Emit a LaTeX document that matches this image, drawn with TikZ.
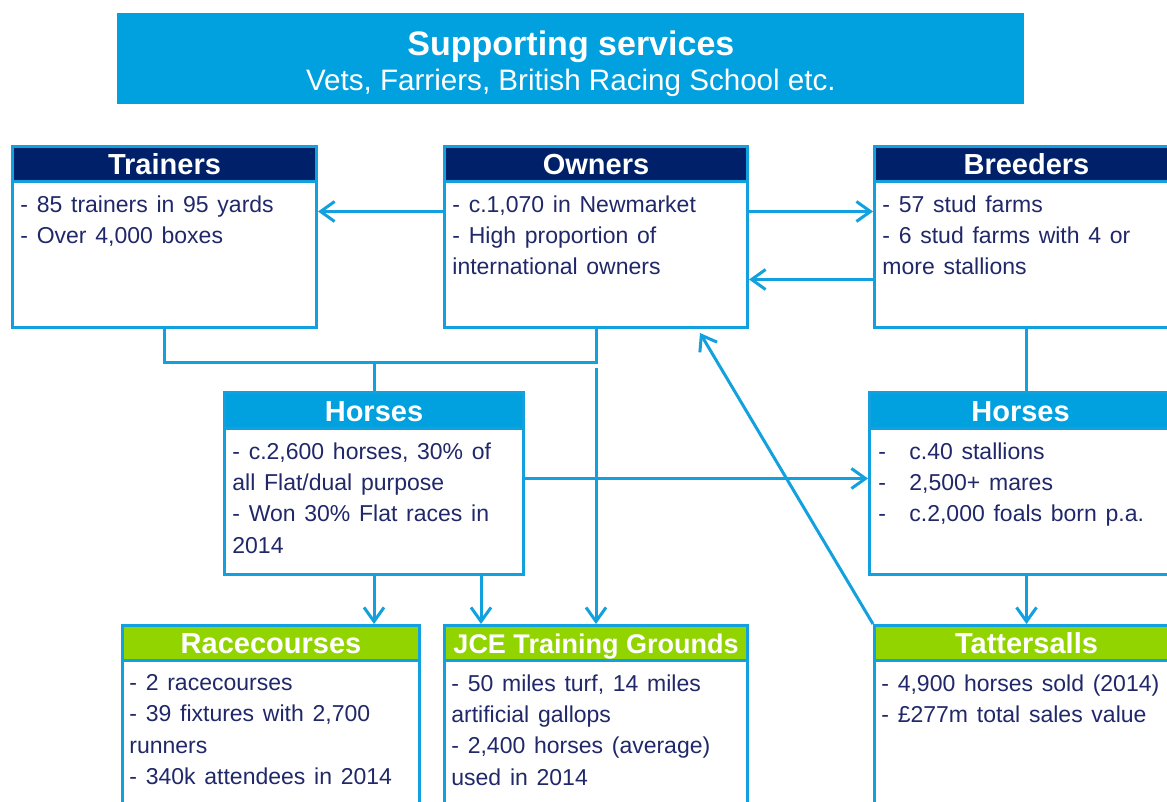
\documentclass[tikz,border=0pt]{standalone}
\usepackage{fontspec}
\setmainfont{Liberation Sans}
\usetikzlibrary{arrows.meta}
\definecolor{lineblue}{RGB}{18,161,222}
\definecolor{bannerblue}{RGB}{0,161,222}
\definecolor{headnavy}{RGB}{0,33,105}
\definecolor{headgreen}{RGB}{146,212,0}
\definecolor{textnavy}{RGB}{33,40,105}

\begin{document}
\begin{tikzpicture}[x=0.5pt,y=-0.5pt,
	box/.style={draw=lineblue,line width=1.5pt,fill=white,anchor=north west,inner sep=0pt},
	head/.style={draw=lineblue,line width=1.5pt,fill=#1,text=white,anchor=north,inner sep=0pt,minimum height=17.5pt,text height=12pt,text depth=1.5pt,font=\fontsize{14.5}{16}\selectfont\bfseries},
	body/.style={anchor=north west,inner sep=0pt,text=textnavy,text width=150pt,align=left,font=\fontsize{11.5}{15.7}\selectfont,execute at begin node={\spaceskip=0.38em\relax}},
	conn/.style={draw=lineblue,line width=1.5pt},
	arr/.style={conn,-{Straight Barb[length=7pt,width=10pt]}}]
	\fill[white] (0,0) rectangle (1167,802);
	\clip (0,0) rectangle (1167,802);
	\node[fill=bannerblue,anchor=north west,minimum width=453.5pt,minimum height=45.5pt,text=white,align=center,font=\fontsize{14.8}{17.8}\selectfont] (support) at (117,13) {};
	\node[text=white,align=center,font=\fontsize{14.8}{17.8}\selectfont] (supportT) at ([yshift=-2.5pt]support.center) {{\fontsize{17}{17.8}\selectfont\bfseries Supporting services}\\Vets, Farriers, British Racing School etc.};
	% top row
	\node[box,minimum width=152pt,minimum height=90.5pt] (trainers) at (11,145) {};
	\node[head=headnavy,minimum width=152pt] (trainersH) at (trainers.north) {Trainers};
	\node[body] (trainersT) at ([xshift=4.5pt,yshift=-6pt]trainersH.south west) {- 85 trainers in 95 yards\\- Over 4,000 boxes};
	\node[box,minimum width=151.5pt,minimum height=90.5pt] (owners) at (443,145) {};
	\node[head=headnavy,minimum width=151.5pt] (ownersH) at (owners.north) {Owners};
	\node[body] (ownersT) at ([xshift=4.5pt,yshift=-6pt]ownersH.south west) {- c.1,070 in Newmarket\\- High proportion of\\international owners};
	\node[box,minimum width=152pt,minimum height=90.5pt] (breeders) at (873,145) {};
	\node[head=headnavy,minimum width=152pt] (breedersH) at (breeders.north) {Breeders};
	\node[body] (breedersT) at ([xshift=4.5pt,yshift=-6pt]breedersH.south west) {- 57 stud farms\\- 6 stud farms with 4 or\\more stallions};
	% horses
	\node[box,minimum width=149.5pt,minimum height=91pt] (horsesL) at (223,391) {};
	\node[head=bannerblue,minimum width=149.5pt,minimum height=18pt] (horsesLH) at (horsesL.north) {Horses};
	\node[body] (horsesLT) at ([xshift=4.5pt,yshift=-6pt]horsesLH.south west) {- c.2,600 horses, 30\% of\\all Flat/dual purpose\\- Won 30\% Flat races in\\2014};
	\node[box,minimum width=151pt,minimum height=91pt] (horsesR) at (868,391) {};
	\node[head=bannerblue,minimum width=151pt,minimum height=18pt] (horsesRH) at (horsesR.north) {Horses};
	\node[body] (horsesRT) at ([xshift=5pt,yshift=-6pt]horsesRH.south west) {\makebox[15.5pt][l]{-}c.40 stallions\\\makebox[15.5pt][l]{-}2,500+ mares\\\makebox[15.5pt][l]{-}c.2,000 foals born p.a.};
	% bottom row
	\node[box,minimum width=148.5pt,minimum height=100pt] (racecourses) at (121,624) {};
	\node[head=headgreen,minimum width=148.5pt] (racecoursesH) at (racecourses.north) {Racecourses};
	\node[body] (racecoursesT) at ([xshift=4pt,yshift=-6pt]racecoursesH.south west) {- 2 racecourses\\- 39 fixtures with 2,700\\runners\\- 340k attendees in 2014};
	\node[box,minimum width=151.5pt,minimum height=100pt] (jce) at (443,624) {};
	\node[head=headgreen,minimum width=151.5pt,font=\fontsize{13.5}{15}\selectfont\bfseries] (jceH) at (jce.north) {JCE Training Grounds};
	\node[body] (jceT) at ([xshift=4pt,yshift=-6pt]jceH.south west) {- 50 miles turf, 14 miles\\artificial gallops\\- 2,400 horses (average)\\used in 2014};
	\node[box,minimum width=152pt,minimum height=100pt] (tatt) at (873,624) {};
	\node[head=headgreen,minimum width=152pt] (tattH) at (tatt.north) {Tattersalls};
	\node[body] (tattT) at ([xshift=4pt,yshift=-6pt]tattH.south west) {- 4,900 horses sold (2014)\\- £277m total sales value};
	% links
	\draw[arr] ([yshift=12.75pt]owners.west) -- ([yshift=12.75pt]trainers.east);
	\draw[arr] ([yshift=12.75pt]owners.east) -- ([yshift=12.75pt]breeders.west);
	\draw[arr] ([yshift=-21.25pt]breeders.west) -- ([yshift=-21.25pt]owners.east);
	\draw[conn] (trainers.south) -- ++(0,33) coordinate (yardline) -| (owners.south);
	\draw[conn] (horsesL.north) -- (horsesL.north |- yardline);
	\draw[arr] ([yshift=-19.5pt]owners.south) -- (jce.north);
	\draw[arr] (horsesL.south) -- (horsesL.south |- racecourses.north);
	\coordinate (jceIn) at ([xshift=19pt]jce.north west);
	\draw[arr] (jceIn |- horsesL.south) -- (jceIn);
	\draw[arr] ([yshift=2.5pt]horsesL.east) -- ([yshift=2.5pt]horsesR.west);
	\draw[conn] (breeders.south) -- (breeders.south |- horsesR.north);
	\draw[arr] (tatt.north |- horsesR.south) -- (tatt.north);
	\draw[arr] (tatt.north west) -- ([xshift=-24.5pt,yshift=-2pt]owners.south east);
\end{tikzpicture}
\end{document}
